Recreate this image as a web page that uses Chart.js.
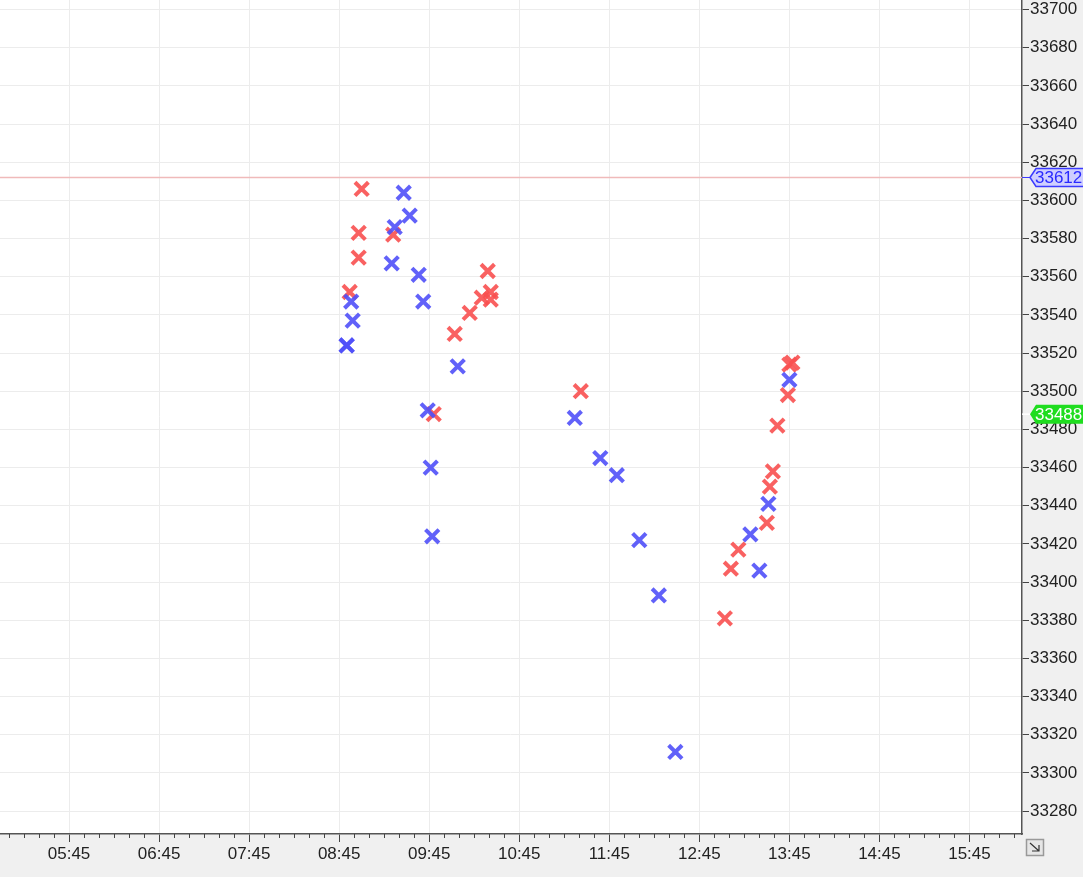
<!DOCTYPE html>
<html>
<head>
<meta charset="utf-8">
<title>Scatter</title>
<script src="https://cdn.jsdelivr.net/npm/chart.js@4/dist/chart.umd.min.js"></script>
<style>
  html, body { margin: 0; padding: 0; background: #f0f0f0; }
  #wrap { width: 1083px; height: 877px; }
</style>
</head>
<body>
<div id="wrap"><canvas id="myChart"></canvas></div>
<script>
// axis
const timeTicks = ["05:45", "06:45", "07:45", "08:45", "09:45", "10:45", "11:45", "12:45", "13:45", "14:45", "15:45"];
const yTicks = [33280, 33300, 33320, 33340, 33360, 33380, 33400, 33420, 33440, 33460, 33480,
  33500, 33520, 33540, 33560, 33580, 33600, 33620, 33640, 33660, 33680, 33700];
const xStart = "04:59";
const xEnd = "16:20";
const yMin = 33268;
const yMax = 33705;

// red marks
const redTimes = ["09:00", "08:58", "08:58", "08:52", "09:21", "09:48", "10:02", "10:12", "10:24", "10:20",
  "10:26", "10:26", "11:26", "13:02", "13:06", "13:11", "13:30", "13:32", "13:34", "13:37", "13:44", "13:45", "13:47"];
const redValues = [33606, 33583, 33570, 33552, 33582, 33488, 33530, 33541, 33563, 33549,
  33552, 33548, 33500, 33381, 33407, 33417, 33431, 33450, 33458, 33482, 33498, 33514, 33515];

// blue marks
const blueTimes = ["09:28", "09:32", "09:22", "09:20", "09:38", "08:53", "09:41", "08:54", "08:50", "08:50",
  "10:04", "09:44", "09:46", "09:47", "11:22", "11:39", "11:50", "12:05", "12:18", "12:29", "13:19", "13:25", "13:31", "13:45"];
const blueValues = [33604, 33592, 33586, 33567, 33561, 33547, 33547, 33537, 33524, 33524,
  33513, 33490, 33460, 33424, 33486, 33465, 33456, 33422, 33393, 33311, 33425, 33406, 33441, 33506];

const refLevel = 33612;
const lastPrice = 33488;

function toMin(s) {
  return Number(s.slice(0, 2)) * 60 + Number(s.slice(3));
}
function fmt(m) {
  const h = Math.floor(m / 60), mm = Math.round(m - h * 60);
  return String(h).padStart(2, "0") + ":" + String(mm).padStart(2, "0");
}
function pts(times, values) {
  return times.map((t, i) => ({ x: toMin(t), y: values[i] }));
}

const FONT = { family: "'Liberation Sans', Arial, sans-serif", size: 17 };

function badge(ctx, x, y, w, h, fill, stroke) {
  ctx.beginPath();
  ctx.moveTo(x, y);
  ctx.lineTo(x + 6, y - h / 2);
  ctx.lineTo(x + w, y - h / 2);
  ctx.lineTo(x + w, y + h / 2);
  ctx.lineTo(x + 6, y + h / 2);
  ctx.closePath();
  ctx.fillStyle = fill;
  ctx.fill();
  if (stroke) {
    ctx.strokeStyle = stroke;
    ctx.lineWidth = 1.5;
    ctx.stroke();
  }
}

const decor = {
  id: "decor",
  beforeDraw(chart) {
    const { ctx, chartArea: a } = chart;
    ctx.save();
    ctx.fillStyle = "#f0f0f0";
    ctx.fillRect(0, 0, chart.width, chart.height);
    ctx.fillStyle = "#ffffff";
    ctx.fillRect(a.left, a.top, a.right - a.left, a.bottom - a.top);
    ctx.restore();
  },
  afterDraw(chart) {
    const { ctx, chartArea: a } = chart;
    const xs = chart.scales.x, ys = chart.scales.y;
    ctx.save();
    // minor ticks every 10 minutes
    ctx.strokeStyle = "#444";
    ctx.lineWidth = 1;
    for (let m = 305; m <= xs.max; m += 10) {
      if ((m - 345) % 60 === 0) continue;
      const px = Math.round(xs.getPixelForValue(m)) + 0.5;
      ctx.beginPath();
      ctx.moveTo(px, a.bottom);
      ctx.lineTo(px, a.bottom + 4);
      ctx.stroke();
    }
    ctx.font = "17px 'Liberation Sans', Arial, sans-serif";
    ctx.textBaseline = "middle";
    // reference level badge
    let y = ys.getPixelForValue(refLevel);
    ctx.strokeStyle = "#3a3aff";
    ctx.beginPath();
    ctx.moveTo(a.right, y);
    ctx.lineTo(a.right + 8, y);
    ctx.stroke();
    badge(ctx, a.right + 8, y, 70, 18, "#cfcfff", "#3a3aff");
    ctx.fillStyle = "#2a2aff";
    ctx.fillText(String(refLevel), a.right + 13, y + 1);
    // last price badge
    y = ys.getPixelForValue(lastPrice);
    ctx.strokeStyle = "#ffffff";
    ctx.beginPath();
    ctx.moveTo(a.right, y);
    ctx.lineTo(a.right + 8, y);
    ctx.stroke();
    badge(ctx, a.right + 8, y, 70, 19, "#1fdd1f", null);
    ctx.fillStyle = "#ffffff";
    ctx.fillText(String(lastPrice), a.right + 13, y + 1);
    // corner icon
    const cx = a.right + 4, cy = a.bottom + 5;
    ctx.fillStyle = "#e6e6e6";
    ctx.fillRect(cx, cy, 17, 16);
    ctx.strokeStyle = "#999";
    ctx.strokeRect(cx + 0.5, cy + 0.5, 17, 16);
    ctx.strokeStyle = "#333";
    ctx.lineWidth = 1.2;
    ctx.beginPath();
    ctx.moveTo(cx + 4, cy + 4);
    ctx.lineTo(cx + 13, cy + 12);
    ctx.moveTo(cx + 13, cy + 6);
    ctx.lineTo(cx + 13, cy + 12);
    ctx.lineTo(cx + 6, cy + 12);
    ctx.stroke();
    ctx.restore();
  }
};

function showChart() {
  const ctx = document.getElementById("myChart");
  new Chart(ctx, {
    type: "scatter",
    data: {
      datasets: [
        {
          type: "line",
          label: "level",
          data: [{ x: toMin(xStart), y: refLevel }, { x: toMin(xEnd), y: refLevel }],
          borderColor: "#f0baba",
          borderWidth: 1.5,
          pointRadius: 0,
          order: 3,
        },
        {
          label: "red",
          data: pts(redTimes, redValues),
          pointStyle: "crossRot",
          pointRadius: 9.5,
          borderColor: "rgba(248, 80, 80, 0.9)",
          backgroundColor: "rgba(248, 80, 80, 0.9)",
          borderWidth: 4,
          order: 2,
        },
        {
          label: "blue",
          data: pts(blueTimes, blueValues),
          pointStyle: "crossRot",
          pointRadius: 9.5,
          borderColor: "rgba(80, 80, 248, 0.9)",
          backgroundColor: "rgba(80, 80, 248, 0.9)",
          borderWidth: 4,
          order: 1,
        },
      ],
    },
    options: {
      responsive: true,
      maintainAspectRatio: false,
      animation: false,
      layout: { padding: 0, autoPadding: false },
      plugins: {
        legend: { display: false },
        tooltip: { enabled: false },
      },
      scales: {
        x: {
          type: "linear",
          position: "bottom",
          min: toMin(xStart),
          max: toMin(xEnd),
          afterBuildTicks: (s) => {
            s.ticks = timeTicks.map((t) => ({ value: toMin(t) }));
          },
          afterFit: (s) => {
            s.height = 43;
            s.paddingLeft = 0;
            s.paddingRight = 0;
          },
          ticks: {
            callback: (v) => fmt(v),
            font: FONT,
            color: "#222",
            padding: 2,
            maxRotation: 0,
            autoSkip: false,
          },
          grid: {
            color: "#ececec",
            tickColor: "#444",
            tickLength: 8,
          },
          border: { color: "#555", width: 1.5 },
        },
        y: {
          position: "right",
          min: yMin,
          max: yMax,
          afterBuildTicks: (s) => {
            s.ticks = yTicks.map((v) => ({ value: v }));
          },
          afterFit: (s) => {
            s.width = 61;
            s.paddingTop = 0;
            s.paddingBottom = 0;
          },
          ticks: {
            callback: (v) => String(v),
            font: FONT,
            color: "#222",
            padding: 1,
          },
          grid: {
            color: "#ececec",
            tickColor: "#444",
            tickLength: 7,
          },
          border: { color: "#555", width: 1.5 },
        },
      },
    },
    plugins: [decor],
  });
}

showChart();
</script>
</body>
</html>
